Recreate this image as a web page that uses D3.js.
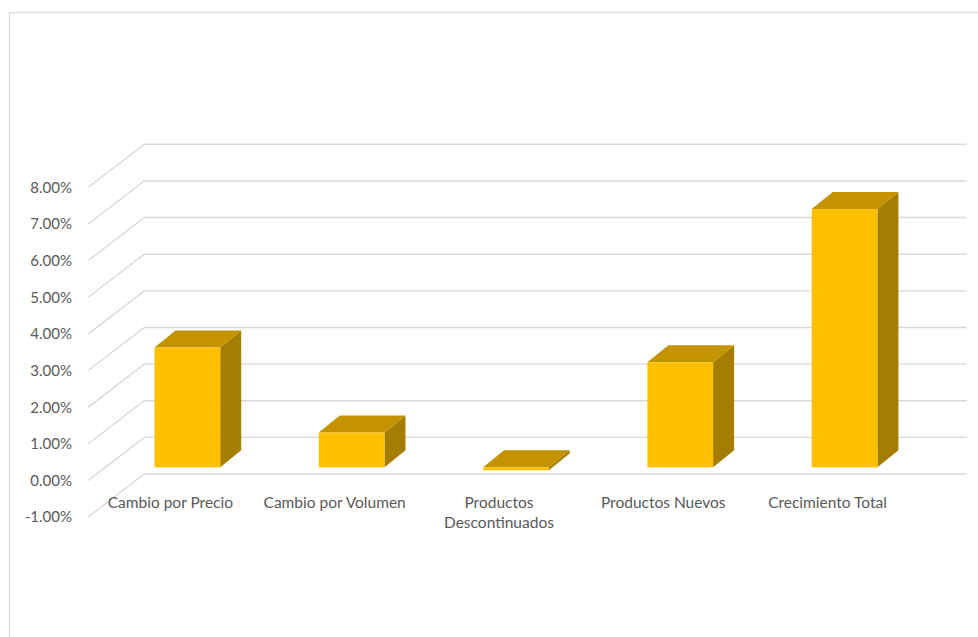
<!DOCTYPE html>
<html>
<head>
<meta charset="utf-8">
<script src="https://cdn.jsdelivr.net/npm/d3@7"></script>
<style>
  html, body { margin: 0; padding: 0; background: #ffffff; }
  svg { display: block; }
  text { font-family: Lato, "Noto Sans", sans-serif; fill: #595959; }
</style>
</head>
<body>
<svg id="chart" width="978" height="637"></svg>
<script>
// Growth decomposition (share of change)
const categories = ["Cambio por Precio", "Cambio por Volumen", "Productos Descontinuados", "Productos Nuevos", "Crecimiento Total"];
const values = [0.0327, 0.0095, -0.0008, 0.0287, 0.0705];
const yTicks = [-0.01, 0, 0.01, 0.02, 0.03, 0.04, 0.05, 0.06, 0.07, 0.08];

const svg = d3.select("#chart");

// chart frame (runs past the right and bottom edges)
svg.append("rect")
  .attr("x", 9.5).attr("y", 12.5)
  .attr("width", 1000).attr("height", 700)
  .attr("fill", "#ffffff").attr("stroke", "#d9d9d9").attr("stroke-width", 1.2);

// back-wall value scale and oblique 3D offsets
const yBack = d3.scaleLinear().domain([-0.01, 0.08]).range([474, 144.3]);
const wallLeft = 144.3, wallRight = 966.7;
const front = { dx: -56, dy: 43 };     // back wall -> front axis plane
const barPlane = 30;                   // vertical shift of bar front faces
const depth = { dx: 21, dy: -17 };     // bar front face -> bar back face
const yBar = v => yBack(v) + barPlane;

const x = d3.scaleBand().domain(categories)
  .range([105.2, 926.7]).paddingInner(0.6).paddingOuter(0.3);

const locale = d3.formatLocale({ decimal: ".", thousands: ",", grouping: [3], currency: ["$", ""], minus: "-", percent: "%" });
const fmt = locale.format(".2%");

// gridlines: back wall segment + floor diagonal
const grid = svg.append("g").attr("fill", "none").attr("stroke", "#d9d9d9").attr("stroke-width", 1.4);
yTicks.forEach(t => {
  const y = yBack(t);
  grid.append("path")
    .attr("d", `M${wallLeft + front.dx},${y + front.dy}L${wallLeft},${y}L${wallRight},${y}`);
});

// vertical axis labels on the front plane
svg.append("g").selectAll("text").data(yTicks).join("text")
  .attr("x", 72)
  .attr("y", d => yBack(d) + front.dy)
  .attr("dy", "0.36em")
  .attr("text-anchor", "end")
  .attr("font-size", 15)
  .text(d => fmt(d));

// 3D columns
const cFront = "#ffc000", cTop = "#c39300", cSide = "#a57d00";
const bars = svg.append("g").selectAll("g").data(categories.map((c, i) => ({ c, v: values[i] }))).join("g");
bars.each(function(d) {
  const g = d3.select(this);
  const x0 = x(d.c), x1 = x0 + x.bandwidth();
  const yt = yBar(Math.max(d.v, 0)), yb = yBar(Math.min(d.v, 0));
  // side face
  g.append("path")
    .attr("d", `M${x1},${yt}L${x1 + depth.dx},${yt + depth.dy}L${x1 + depth.dx},${yb + depth.dy}L${x1},${yb}Z`)
    .attr("fill", cSide);
  // top face
  g.append("path")
    .attr("d", `M${x0},${yt}L${x0 + depth.dx},${yt + depth.dy}L${x1 + depth.dx},${yt + depth.dy}L${x1},${yt}Z`)
    .attr("fill", cTop);
  // front face
  g.append("rect")
    .attr("x", x0).attr("y", yt)
    .attr("width", x1 - x0).attr("height", Math.max(yb - yt, 0.5))
    .attr("fill", cFront);
});

// category labels on the front plane, wrapped to the band
const labelShift = -17;
const labels = svg.append("g").selectAll("text").data(categories).join("text")
  .attr("text-anchor", "middle")
  .attr("font-size", 15.5)
  .attr("x", d => x(d) + x.bandwidth() / 2 + labelShift)
  .attr("y", 507.5);

labels.each(function(d) {
  const t = d3.select(this);
  const cx = +t.attr("x");
  const words = d.split(" ");
  let line = [];
  let tspan = t.append("tspan").attr("x", cx).attr("dy", 0);
  words.forEach(w => {
    line.push(w);
    tspan.text(line.join(" "));
    if (tspan.node().getComputedTextLength() > x.step() * 0.98 && line.length > 1) {
      line.pop();
      tspan.text(line.join(" "));
      line = [w];
      tspan = t.append("tspan").attr("x", cx).attr("dy", "1.33em").text(w);
    }
  });
});
</script>
</body>
</html>
